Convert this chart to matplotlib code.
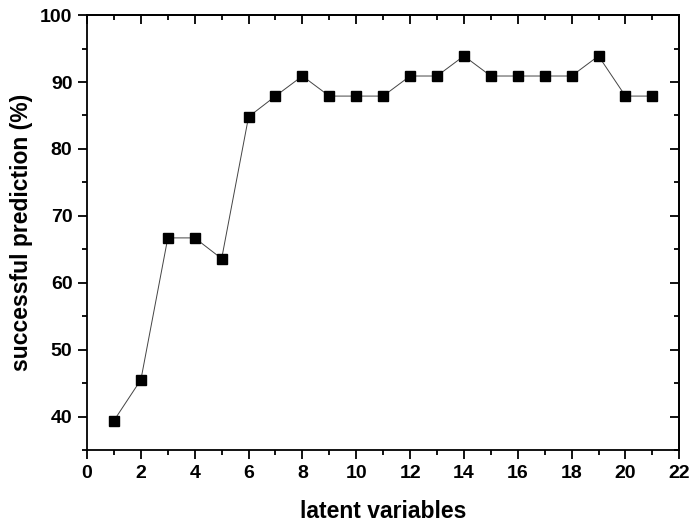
import numpy as np
import matplotlib
matplotlib.use("Agg")
import matplotlib.pyplot as plt
from matplotlib.ticker import MultipleLocator

plt.rcParams['font.family'] = ['Liberation Sans', 'DejaVu Sans']

latent = [1, 2, 3, 4, 5, 6, 7, 8, 9, 10, 11, 12, 13, 14, 15, 16, 17, 18, 19, 20, 21]
success = [39.4, 45.5, 66.7, 66.7, 63.6, 84.8, 87.9, 90.9, 87.9, 87.9, 87.9,
           90.9, 90.9, 93.9, 90.9, 90.9, 90.9, 90.9, 93.9, 87.9, 87.9]

fig = plt.figure(figsize=(6.91, 5.22), dpi=100)
ax = fig.add_axes([0.126, 0.138, 0.857, 0.833])

ax.plot(latent, success, color='#444444', lw=0.7, marker='s', markersize=7.5,
        markerfacecolor='black', markeredgecolor='black')

ax.set_xlim(0, 22)
ax.set_ylim(35, 100)
ax.xaxis.set_major_locator(MultipleLocator(2))
ax.xaxis.set_minor_locator(MultipleLocator(1))
ax.yaxis.set_minor_locator(MultipleLocator(5))
ax.set_yticks([40, 50, 60, 70, 80, 90, 100])

# left/bottom ticks point out, mirrored top/right ticks point in
ax.tick_params(which='both', direction='out', width=1.3, labelsize=14, pad=4)
ax.tick_params(which='major', length=6.5)
ax.tick_params(which='minor', length=3.5)
ax2 = ax.secondary_xaxis('top')
ax2.xaxis.set_major_locator(MultipleLocator(2))
ax2.xaxis.set_minor_locator(MultipleLocator(1))
ax2.tick_params(which='both', direction='in', labeltop=False, width=1.3)
ax2.tick_params(which='major', length=6.5)
ax2.tick_params(which='minor', length=3.5)
ax3 = ax.secondary_yaxis('right')
ax3.yaxis.set_major_locator(MultipleLocator(10))
ax3.yaxis.set_minor_locator(MultipleLocator(5))
ax3.tick_params(which='both', direction='in', labelright=False, width=1.3)
ax3.tick_params(which='major', length=6.5)
ax3.tick_params(which='minor', length=3.5)

for lab in ax.get_xticklabels() + ax.get_yticklabels():
    lab.set_fontweight('bold')
for s in ax.spines.values():
    s.set_linewidth(1.3)
ax2.spines['top'].set_linewidth(1.3)
ax3.spines['right'].set_linewidth(1.3)

ax.set_xlabel('latent variables', fontsize=16.5, fontweight='bold', labelpad=13)
ax.set_ylabel('successful prediction (%)', fontsize=16.5, fontweight='bold', labelpad=5)

fig.savefig('out.png', dpi=100)
